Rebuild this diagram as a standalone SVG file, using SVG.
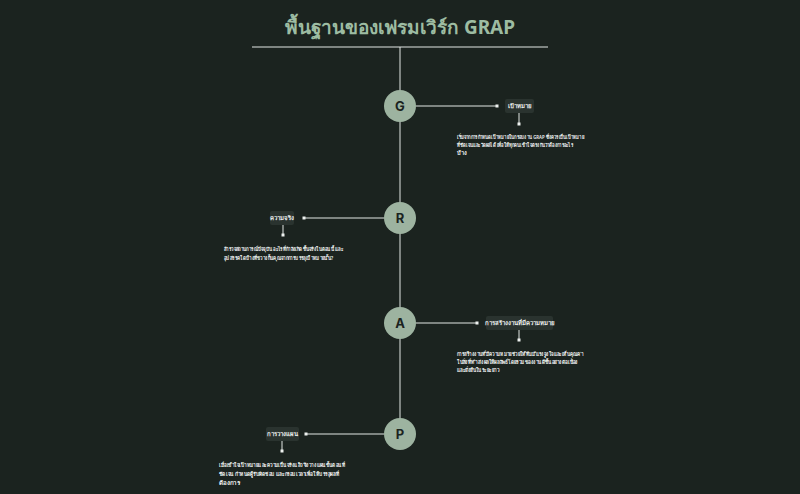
<svg xmlns="http://www.w3.org/2000/svg" width="800" height="494" viewBox="0 0 800 494">
<style>
.ln{stroke:#e3e8e5;stroke-width:1;fill:none}
.dot{fill:#eef1ef}
.circ{fill:#9db3a0}
.ct{font-family:"Inter","Noto Sans","Liberation Sans",sans-serif;font-size:13px;font-weight:700;fill:#1b231f;text-anchor:middle}
.lb{fill:#2a332f}
.lt{font-family:"Noto Sans","Liberation Sans",sans-serif;font-size:6px;font-weight:600;fill:#eef1ef;text-anchor:middle}
.ds{font-family:"Noto Sans","Liberation Sans",sans-serif;font-size:5.6px;font-weight:600;fill:#f2f4f3}
</style>
<rect width="800" height="494" fill="#1b231f"/>
<text x="400" y="34" text-anchor="middle" font-family="Noto Sans, Liberation Sans, sans-serif" font-size="19" font-weight="700" fill="#9dbca2">พื้นฐานของเฟรมเวิร์ก GRAP</text>
<g id="connectors">
<line class="ln" x1="252" y1="47" x2="548" y2="47"/>
<line class="ln" x1="400" y1="47" x2="400" y2="419"/>
<line class="ln" x1="416" y1="106" x2="497" y2="106"/>
<rect class="dot" x="495.5" y="104.5" width="3" height="3"/>
<line class="ln" x1="519" y1="113" x2="519" y2="124"/>
<rect class="dot" x="517.5" y="122.5" width="3" height="3"/>
<line class="ln" x1="384" y1="218" x2="304" y2="218"/>
<rect class="dot" x="302.5" y="216.5" width="3" height="3"/>
<line class="ln" x1="283" y1="224" x2="283" y2="235"/>
<rect class="dot" x="281.5" y="233.5" width="3" height="3"/>
<line class="ln" x1="416" y1="323" x2="477" y2="323"/>
<rect class="dot" x="475.5" y="321.5" width="3" height="3"/>
<line class="ln" x1="519" y1="329" x2="519" y2="340"/>
<rect class="dot" x="517.5" y="338.5" width="3" height="3"/>
<line class="ln" x1="384" y1="434" x2="306" y2="434"/>
<rect class="dot" x="304.5" y="432.5" width="3" height="3"/>
<line class="ln" x1="282" y1="440" x2="282" y2="451"/>
<rect class="dot" x="280.5" y="449.5" width="3" height="3"/>
</g>
<g id="node-G">
<circle class="circ" cx="400" cy="106" r="16"/>
<text class="ct" x="400" y="111">G</text>
<rect class="lb" x="505" y="99" width="29" height="14" rx="2"/>
<text class="lt" x="519.5" y="108">เป้าหมาย</text>
<text class="ds" x="457" y="139" textLength="127" lengthAdjust="spacingAndGlyphs">เริ่มจากการกำหนดเป้าหมายในกรอบงาน GRAP ซึ่งควรเป็นเป้าหมาย</text>
<text class="ds" x="457" y="147" textLength="116" lengthAdjust="spacingAndGlyphs">ที่ชัดเจนและวัดผลได้ เพื่อให้ทุกคนเข้าใจตรงกันว่าต้องการอะไร</text>
<text class="ds" x="457" y="155" textLength="10" lengthAdjust="spacingAndGlyphs">บ้าง</text>
</g>
<g id="node-R">
<circle class="circ" cx="400" cy="218" r="16"/>
<text class="ct" x="400" y="223">R</text>
<rect class="lb" x="270" y="211" width="24" height="14" rx="2"/>
<text class="lt" x="282" y="220">ความจริง</text>
<text class="ds" x="224" y="251" textLength="119" lengthAdjust="spacingAndGlyphs">สำรวจสถานการณ์ปัจจุบัน อะไรที่กำลังเกิดขึ้นจริงในตอนนี้ และ</text>
<text class="ds" x="224" y="260" textLength="109" lengthAdjust="spacingAndGlyphs">อุปสรรคใดบ้างที่ขวางกั้นคุณจากการบรรลุเป้าหมายนั้น?</text>
</g>
<g id="node-A">
<circle class="circ" cx="400" cy="323" r="16"/>
<text class="ct" x="400" y="328">A</text>
<rect class="lb" x="486" y="316" width="67" height="14" rx="2"/>
<text class="lt" x="519.5" y="325">การสร้างงานที่มีความหมาย</text>
<text class="ds" x="457" y="356" textLength="126" lengthAdjust="spacingAndGlyphs">การสร้างงานที่มีความหมายช่วยให้ทีมมีแรงจูงใจและเห็นคุณค่า</text>
<text class="ds" x="457" y="364" textLength="121" lengthAdjust="spacingAndGlyphs">ในสิ่งที่ทำ ส่งผลให้ผลลัพธ์โดยรวมของงานดีขึ้นอย่างต่อเนื่อง</text>
<text class="ds" x="457" y="372" textLength="42" lengthAdjust="spacingAndGlyphs">และยั่งยืนในระยะยาว</text>
</g>
<g id="node-P">
<circle class="circ" cx="400" cy="434" r="16"/>
<text class="ct" x="400" y="439">P</text>
<rect class="lb" x="266" y="427" width="33" height="14" rx="2"/>
<text class="lt" x="282.5" y="436">การวางแผน</text>
<text class="ds" x="219" y="467" textLength="126" lengthAdjust="spacingAndGlyphs">เมื่อเข้าใจเป้าหมายและความเป็นจริงแล้ว จึงวางแผนขั้นตอนที่</text>
<text class="ds" x="219" y="476" textLength="120" lengthAdjust="spacingAndGlyphs">ชัดเจน กำหนดผู้รับผิดชอบ และกรอบเวลาเพื่อให้บรรลุผลที่</text>
<text class="ds" x="219" y="485" textLength="21" lengthAdjust="spacingAndGlyphs">ต้องการ</text>
</g>
</svg>
